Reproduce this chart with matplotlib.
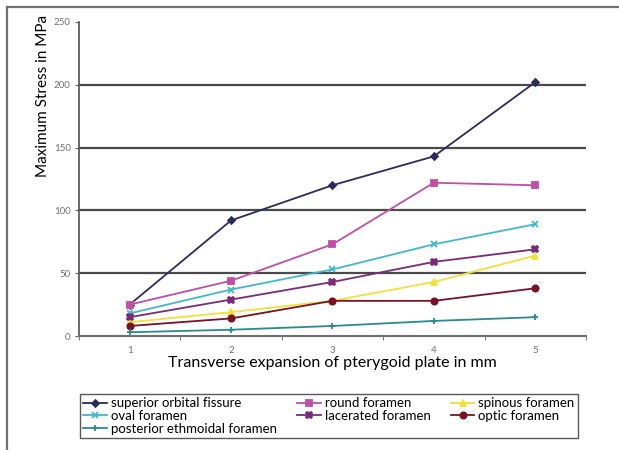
"""
Maximum stress at the cranial foramina for increasing pterygoid plate expansion.
"""
import numpy as np
import matplotlib.pyplot as plt
from matplotlib.lines import Line2D

expansion_mm = [1, 2, 3, 4, 5]

superior_orbital_fissure = [25, 92, 120, 143, 202]
round_foramen = [25, 44, 73, 122, 120]
spinous_foramen = [11, 19, 28, 43, 64]
oval_foramen = [18, 37, 53, 73, 89]
lacerated_foramen = [15, 29, 43, 59, 69]
optic_foramen = [8, 14, 28, 28, 38]
posterior_ethmoidal_foramen = [3, 5, 8, 12, 15]

y_ticks = [0, 50, 100, 150, 200, 250]

plt.rcParams['font.family'] = ['Lato', 'DejaVu Sans']

# name, values, colour, marker, marker size
series = [
    ('superior orbital fissure', superior_orbital_fissure, '#2c2c5c', 'D', 3.5),
    ('round foramen', round_foramen, '#c24ea6', 's', 4.5),
    ('spinous foramen', spinous_foramen, '#efe23a', '^', 4.5),
    ('oval foramen', oval_foramen, '#41b8c9', 'x', 5),
    ('lacerated foramen', lacerated_foramen, '#7b2a79', 'X', 5),
    ('optic foramen', optic_foramen, '#7a1224', 'o', 4.5),
    ('posterior ethmoidal foramen', posterior_ethmoidal_foramen, '#2b8b8b', '+', 5),
]

fig = plt.figure(figsize=(6.19, 4.5), dpi=100)
ax = fig.add_axes([0.1276, 0.2533, 0.819, 0.698])

for yv in y_ticks[1:-1]:
    ax.axhline(yv, color='#4a4a4a', lw=1.6, zorder=1)

handles = {}
for name, vals, color, marker, ms in series:
    h, = ax.plot(expansion_mm, vals, color=color, lw=1.3, marker=marker,
                 ms=ms, mew=1.3, zorder=3, label=name)
    handles[name] = h

ax.set_xlim(0.5, 5.5)
ax.set_ylim(0, 250)
ax.set_yticks(y_ticks)
ax.set_xticks(expansion_mm)
ax.set_xticks(np.arange(0.5, 6, 1.0), minor=True)
ax.tick_params(axis='x', which='major', length=0, pad=7, labelsize=7, labelcolor='#707070')
ax.tick_params(axis='x', which='minor', length=3, color='#606060')
ax.tick_params(axis='y', length=3, color='#606060', labelsize=7, labelcolor='#707070', pad=3)
ax.spines[['top', 'right']].set_visible(False)
ax.spines['left'].set_color('#505050')
ax.spines['bottom'].set_color('#707070')
ax.spines['left'].set_linewidth(1.2)
ax.spines['bottom'].set_linewidth(1.5)

ax.set_xlabel('Transverse expansion of pterygoid plate in mm', fontsize=11.5, labelpad=1)
ax.set_ylabel('Maximum Stress in MPa', fontsize=11, labelpad=3, y=0.764)

# legend filled column by column: three rows in the first column
order = ['superior orbital fissure', 'oval foramen', 'posterior ethmoidal foramen',
         'round foramen', 'lacerated foramen',
         'spinous foramen', 'optic foramen']
leg = fig.legend([handles[k] for k in order], order, ncol=3,
                 loc='lower left', bbox_to_anchor=(80 / 619, 1 - 438 / 450, 498 / 619, 54 / 450),
                 mode='expand', fontsize=9.5, frameon=True, fancybox=False,
                 edgecolor='#303030', handlelength=1.8, handletextpad=0.3,
                 labelspacing=0.05, borderpad=0.25, borderaxespad=0, columnspacing=0.5)
leg.get_frame().set_linewidth(1.0)

# outer frame, top and left edges
fig.add_artist(Line2D([7 / 619, 7 / 619], [0, 1 - 7 / 450], transform=fig.transFigure,
                      color='#707070', lw=1.6))
fig.add_artist(Line2D([7 / 619, 1], [1 - 7 / 450, 1 - 7 / 450], transform=fig.transFigure,
                      color='#707070', lw=1.6))

plt.savefig('out.png', dpi=100)
plt.close()
